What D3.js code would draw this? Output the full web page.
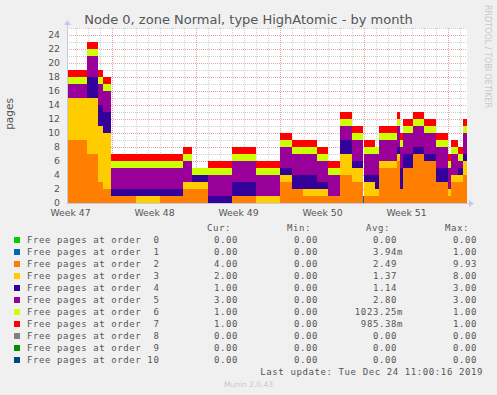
<!DOCTYPE html>
<html>
<head>
<meta charset="utf-8">
<script src="https://cdn.jsdelivr.net/npm/d3@7"></script>
<style>
  html, body { margin: 0; padding: 0; background: #f0f0f0; }
  svg { display: block; }
  text { font-family: "DejaVu Sans", sans-serif; fill: #555; }
  .mono { font-family: "DejaVu Sans Mono", monospace; font-size: 9px; letter-spacing: 0.6px; white-space: pre; }
</style>
</head>
<body>
<svg id="chart" width="497" height="395"></svg>
<script>
// ---- data ----
const sampleTimes = [
  '2019-11-21T06:00Z', '2019-11-22T22:00Z', '2019-11-23T20:00Z', '2019-11-24T06:00Z',
  '2019-11-24T22:00Z', '2019-11-27T00:00Z', '2019-11-29T00:00Z', '2019-11-30T22:00Z',
  '2019-12-01T16:00Z', '2019-12-03T00:00Z', '2019-12-05T00:00Z', '2019-12-07T00:00Z',
  '2019-12-09T00:00Z', '2019-12-10T00:00Z', '2019-12-10T22:00Z', '2019-12-12T02:00Z',
  '2019-12-13T00:00Z', '2019-12-14T00:00Z', '2019-12-15T00:00Z', '2019-12-15T22:00Z',
  '2019-12-16T00:00Z', '2019-12-16T22:00Z', '2019-12-17T06:00Z', '2019-12-18T18:00Z',
  '2019-12-19T00:00Z', '2019-12-19T06:00Z', '2019-12-20T02:00Z', '2019-12-21T00:00Z',
  '2019-12-22T00:00Z', '2019-12-23T00:00Z', '2019-12-23T06:00Z', '2019-12-23T20:00Z',
  '2019-12-24T06:00Z'
];
const endTime = '2019-12-24T14:00Z';

const order0 = [0,0,0,0, 0,0,0,0, 0,0,0,0, 0,0,0,0, 0,0,0,0, 0,0,0,0, 0,0,0,0, 0,0,0,0, 0];
const order1 = [0,0,0,0, 0,0,0,0, 0,0,0,0, 0,0,0,0, 0,0,0,1, 0,0,0,0, 0,0,0,0, 0,0,0,0, 0];
const order2 = [9,7,3,2, 1,0,1,2, 2,0,1,0, 3,2,1,1, 1,4,3,0, 1,1,5,6, 2,5,7,6, 3,1,3,3, 4];
const order3 = [6,8,8,8, 0,1,0,1, 1,0,0,1, 1,0,1,1, 0,3,2,0, 2,1,1,1, 0,0,0,0, 0,1,1,1, 2];
const order4 = [0,3,3,3, 1,1,1,0, 1,1,2,0, 1,2,2,1, 0,2,1,0, 1,2,0,1, 3,2,1,1, 2,0,0,1, 1];
const order5 = [2,3,3,3, 3,3,3,3, 0,3,3,3, 3,3,3,3, 3,2,3,0, 3,3,3,3, 3,3,3,3, 3,3,3,1, 3];
const order6 = [1,1,1,1, 1,1,1,1, 1,1,1,1, 1,1,1,1, 1,1,1,0, 1,1,1,1, 1,1,1,1, 1,1,1,1, 1];
const order7 = [1,1,1,1, 1,1,1,1, 0,1,1,1, 1,1,1,1, 1,1,1,0, 1,0,1,1, 1,1,1,1, 1,1,1,1, 1];
const order8 = order0.map(() => 0);
const order9 = order0.map(() => 0);
const order10 = order0.map(() => 0);

const seriesNames = [
  'Free pages at order  0', 'Free pages at order  1', 'Free pages at order  2',
  'Free pages at order  3', 'Free pages at order  4', 'Free pages at order  5',
  'Free pages at order  6', 'Free pages at order  7', 'Free pages at order  8',
  'Free pages at order  9', 'Free pages at order 10'
];
const seriesColors = ['#00CC00', '#0066B3', '#FF8000', '#FFCC00', '#330099', '#990099',
  '#CCFF00', '#FF0000', '#808080', '#008F00', '#00487D'];
const curVals = ['0.00', '0.00', '4.00', '2.00', '1.00', '3.00', '1.00', '1.00', '0.00', '0.00', '0.00'];
const minVals = ['0.00', '0.00', '0.00', '0.00', '0.00', '0.00', '0.00', '0.00', '0.00', '0.00', '0.00'];
const avgVals = ['0.00 ', '3.94m', '2.49 ', '1.37 ', '1.14 ', '2.80 ', '1023.25m', '985.38m', '0.00 ', '0.00 ', '0.00 '];
const maxVals = ['0.00', '1.00', '9.93', '8.00', '3.00', '3.00', '1.00', '1.00', '0.00', '0.00', '0.00'];

const yTicks = [0, 2, 4, 6, 8, 10, 12, 14, 16, 18, 20, 22, 24];
const weekStarts = ['2019-11-18T00:00Z', '2019-11-25T00:00Z', '2019-12-02T00:00Z',
  '2019-12-09T00:00Z', '2019-12-16T00:00Z'];

// ---- layout ----
const W = 497, H = 395;
const P = { left: 67, top: 28, w: 400, h: 175 };
const svg = d3.select('#chart');

svg.append('rect').attr('width', W).attr('height', H).attr('fill', '#f0f0f0');

const t0 = new Date(sampleTimes[0]);
const t1 = new Date(endTime);
const x = d3.scaleUtc().domain([t0, t1]).range([P.left, P.left + P.w]);
const y = d3.scaleLinear().domain([0, 25]).range([P.top + P.h, P.top]);

// plot canvas
svg.append('rect')
  .attr('x', P.left).attr('y', P.top).attr('width', P.w).attr('height', P.h)
  .attr('fill', '#fff');

// grid
const grid = svg.append('g').attr('shape-rendering', 'crispEdges');
d3.range(0, 26).forEach((v) => {
  grid.append('line')
    .attr('x1', P.left).attr('x2', P.left + P.w)
    .attr('y1', Math.round(y(v)) + 0.5).attr('y2', Math.round(y(v)) + 0.5)
    .attr('stroke', v % 2 === 0 ? '#e9a3a3' : '#cfcfcf')
    .attr('stroke-dasharray', '1,1');
});
d3.utcDay.range(t0, t1).forEach((d) => {
  const isMon = d.getUTCDay() === 1;
  grid.append('line')
    .attr('x1', Math.round(x(d)) + 0.5).attr('x2', Math.round(x(d)) + 0.5)
    .attr('y1', P.top).attr('y2', P.top + P.h)
    .attr('stroke', isMon ? '#e9a3a3' : '#cfcfcf')
    .attr('stroke-dasharray', '1,1');
});

// stacked areas
const keys = d3.range(11).map((i) => 'o' + i);
const cols = [order0, order1, order2, order3, order4, order5, order6, order7, order8, order9, order10];
const rows = sampleTimes.map((s, i) => {
  const r = { t: new Date(s) };
  keys.forEach((k, j) => { r[k] = cols[j][i]; });
  return r;
});
// hold the last sample until the graph end
rows.push(Object.assign({}, rows[rows.length - 1], { t: t1 }));

const stacked = d3.stack().keys(keys)(rows);
const area = d3.area()
  .curve(d3.curveStepAfter)
  .x((d) => x(d.data.t))
  .y0((d) => y(d[0]))
  .y1((d) => y(d[1]));

svg.append('g').selectAll('path')
  .data(stacked)
  .join('path')
  .attr('fill', (d, i) => seriesColors[i])
  .attr('d', area);

// axes (light blue, with arrows)
const axisColor = '#c4cbe8';
svg.append('line')
  .attr('x1', P.left + 0.5).attr('x2', P.left + 0.5)
  .attr('y1', P.top + P.h).attr('y2', P.top - 4)
  .attr('stroke', axisColor);
svg.append('line')
  .attr('x1', P.left).attr('x2', P.left + P.w + 4)
  .attr('y1', P.top + P.h + 0.5).attr('y2', P.top + P.h + 0.5)
  .attr('stroke', axisColor);
svg.append('path')
  .attr('d', `M${P.left - 3},${P.top - 3}L${P.left + 0.5},${P.top - 8}L${P.left + 4},${P.top - 3}Z`)
  .attr('fill', axisColor);
svg.append('path')
  .attr('d', `M${P.left + P.w + 2},${P.top + P.h - 3}L${P.left + P.w + 7},${P.top + P.h + 0.5}L${P.left + P.w + 2},${P.top + P.h + 4}Z`)
  .attr('fill', axisColor);

// y axis labels
const yAxis = d3.axisLeft(y).tickValues(yTicks).tickSize(0).tickPadding(7);
svg.append('g')
  .attr('transform', `translate(${P.left},0)`)
  .call(yAxis)
  .call((g) => g.select('.domain').remove())
  .call((g) => g.selectAll('text')
    .attr('font-family', 'DejaVu Sans').attr('font-size', 9.3).attr('fill', '#555'));

// x axis labels: "Week NN" centred in each week
const labelTimes = weekStarts.map((s) => d3.utcHour.offset(new Date(s), 84));
const xAxis = d3.axisBottom(x).tickValues(labelTimes)
  .tickFormat(d3.utcFormat('Week %V')).tickSize(0).tickPadding(6);
svg.append('g')
  .attr('transform', `translate(0,${P.top + P.h})`)
  .call(xAxis)
  .call((g) => g.select('.domain').remove())
  .call((g) => g.selectAll('text')
    .attr('font-family', 'DejaVu Sans').attr('font-size', 9.3).attr('fill', '#555'));

// title / labels
svg.append('text')
  .attr('x', W / 2).attr('y', 24)
  .attr('text-anchor', 'middle').attr('font-size', 13).attr('fill', '#555')
  .text('Node 0, zone Normal, type HighAtomic - by month');

svg.append('text')
  .attr('transform', 'translate(13,114) rotate(-90)')
  .attr('text-anchor', 'middle').attr('font-size', 10.5)
  .text('pages');

svg.append('text')
  .attr('transform', 'translate(485,5) rotate(90)')
  .attr('font-size', 8).style('fill', '#c8c8c8')
  .text('RRDTOOL / TOBI OETIKER');

// legend table
const leg = svg.append('g');
const hdr = [['Cur:', 231], ['Min:', 311], ['Avg:', 390], ['Max:', 469]];
hdr.forEach(([s, xe]) => {
  leg.append('text').attr('class', 'mono').attr('x', xe).attr('y', 231)
    .attr('text-anchor', 'end').text(s);
});

seriesNames.forEach((name, i) => {
  const by = 243 + i * 12;
  leg.append('rect')
    .attr('x', 14).attr('y', by - 6).attr('width', 6).attr('height', 6)
    .attr('fill', seriesColors[i]);
  leg.append('text').attr('class', 'mono').attr('x', 27).attr('y', by).text(name);
  const cells = [[curVals[i], 238], [minVals[i], 318], [avgVals[i], 403], [maxVals[i], 477]];
  cells.forEach(([s, xe]) => {
    leg.append('text').attr('class', 'mono').attr('x', xe).attr('y', by)
      .attr('text-anchor', 'end').text(s);
  });
});

leg.append('text').attr('class', 'mono').attr('x', 483).attr('y', 375)
  .attr('text-anchor', 'end').text('Last update: Tue Dec 24 11:00:16 2019');

svg.append('text')
  .attr('x', W / 2).attr('y', 387)
  .attr('text-anchor', 'middle').attr('font-size', 7.5).style('fill', '#c8c8c8')
  .text('Munin 2.0.43');
</script>
</body>
</html>
